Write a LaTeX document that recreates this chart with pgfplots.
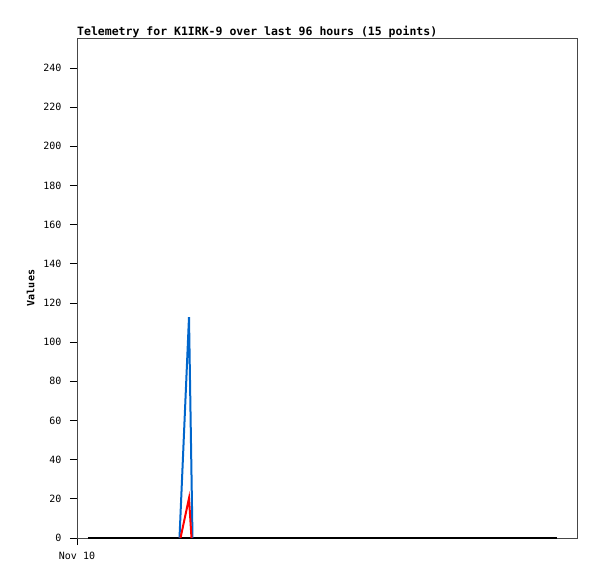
\documentclass[border=0pt]{standalone}
\usepackage{fontspec}
\setmainfont{DejaVu Sans Mono}
\usepackage{pgfplots}
\pgfplotsset{compat=1.18}
\definecolor{telblue}{RGB}{0,102,204}
\definecolor{frame}{RGB}{70,70,70}

\begin{document}
\begin{tikzpicture}[x=1pt,y=1pt]
\path[use as bounding box] (-77,-41) rectangle (520,538);
\begin{axis}[
  scale only axis,
  width=500pt, height=500pt,
  xmin=0, xmax=500,
  ymin=0, ymax=255.3,
  axis line style={frame, line width=0.8pt},
  ytick={0,20,...,240},
  xtick={0},
  xticklabels={Nov 10},
  ytick pos=left, xtick pos=bottom,
  tick align=outside,
  major tick length=7pt,
  tick style={black, line width=0.8pt},
  ticklabel style={font=\fontsize{10}{12}\selectfont},
  yticklabel style={xshift=-5pt},
  xticklabel style={yshift=-4pt},
  /pgf/number format/assume math mode=true,
  ylabel={\textbf{Values}},
  ylabel style={font=\fontsize{10}{12}\selectfont, at={(axis description cs:-0.078,0.5)}},
  title={\textbf{Telemetry for K1IRK-9 over last 96 hours (15 points)}},
  title style={font=\fontsize{11.5}{13}\selectfont, at={(axis description cs:0,1)}, anchor=base west, inner sep=0pt, yshift=-4pt},
]
\addplot[black, line width=2pt] coordinates {(11,0) (480,0)};
\addplot[telblue, line width=2pt] coordinates {(102.5,0) (112,112.8) (115.5,0)};
\addplot[red, line width=2pt] coordinates {(103.5,0) (112,20.3) (114.5,0)};
\end{axis}
\end{tikzpicture}
\end{document}
